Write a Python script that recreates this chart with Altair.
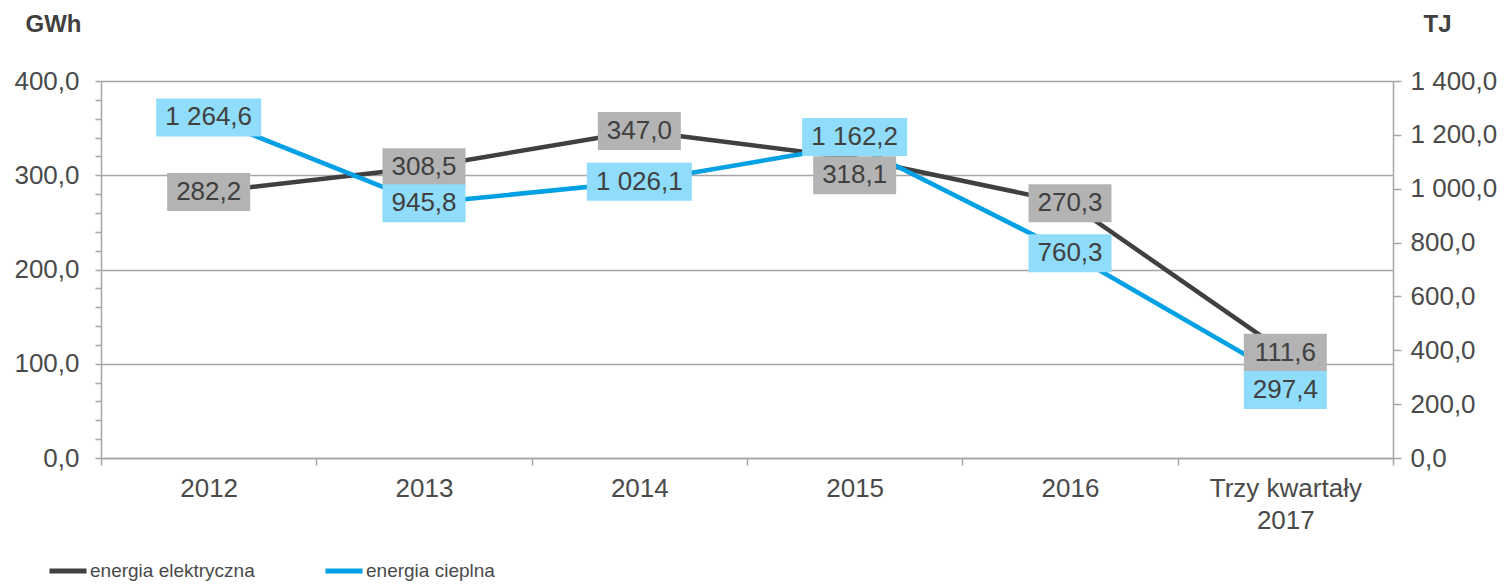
import altair as alt
import pandas as pd

# ---- data ----
categories = ["2012", "2013", "2014", "2015", "2016", "Trzy kwartały 2017"]
elektryczna = [282.2, 308.5, 347.0, 318.1, 270.3, 111.6]   # GWh (left axis)
cieplna = [1264.6, 945.8, 1026.1, 1162.2, 760.3, 297.4]    # TJ (right axis)
series_names = ["energia elektryczna", "energia cieplna"]
left_tick_values = [0, 100, 200, 300, 400]
right_tick_values = [0, 200, 400, 600, 800, 1000, 1200, 1400]

# ---- layout / style ----
FONT = "Liberation Sans"
PLOT_W, PLOT_H = 1292, 377
GWH_MAX, TJ_MAX = 400, 1400
BOX_H = 38
E_LINE, T_LINE = "#404040", "#00a0e4"
E_BOX, T_BOX = "#b3b3b3", "#8fdcfb"
TXT = "#4a4a4a"
GRID = "#a6a6a6"


def fmt(v):
    return f"{v:,.1f}".replace(",", " ").replace(".", ",")


def make_df(values, name, vmax, nudges):
    df = pd.DataFrame({"cat": categories, "value": values, "series": name})
    df["label"] = [fmt(v) for v in values]
    px = df["cat"].map(nudges).fillna(0)
    df["ly"] = df["value"] - px * vmax / PLOT_H
    half = BOX_H / 2 * vmax / PLOT_H
    df["lo"] = df["ly"] - half
    df["hi"] = df["ly"] + half
    df["long"] = df["label"].str.len() > 5
    return df


# label nudges in pixels (positive = down), as in the reference
df_e = make_df(elektryczna, series_names[0], GWH_MAX, {"2015": 17})
df_t = make_df(cieplna, series_names[1], TJ_MAX, {"2015": -8, "Trzy kwartały 2017": 12})

xscale = alt.Scale(type="band", paddingInner=0, paddingOuter=0)
ys_left = alt.Scale(domain=[0, GWH_MAX], nice=False)
ys_right = alt.Scale(domain=[0, TJ_MAX], nice=False)

x_axis = alt.Axis(
    tickBand="extent", tickSize=7, tickColor=GRID, tickWidth=1.5,
    domainColor=GRID, domainWidth=1.5, grid=False, title=None, labelAngle=0,
    labelFont=FONT, labelFontSize=26, labelColor=TXT, labelPadding=10,
    labelLineHeight=32,
    labelExpr="datum.label == 'Trzy kwartały 2017' ? ['Trzy kwartały', '2017'] : datum.label",
)

left_axis = alt.Axis(
    values=list(range(0, GWH_MAX + 1, 20)),
    labelExpr="datum.value % 100 === 0 ? replace(format(datum.value, ',.1f'), '.', ',') : ''",
    labelOverlap=False, labelBound=False,
    tickSize=6, tickColor=GRID, tickWidth=1.5,
    domainColor=GRID, domainWidth=1.5,
    grid=True, gridColor=GRID, gridWidth=1.5,
    gridOpacity={"condition": {"test": "datum.value % 100 === 0", "value": 1}, "value": 0},
    labelFont=FONT, labelFontSize=26, labelColor=TXT, labelPadding=16,
    title="GWh", titleAngle=0, titleX=-48, titleY=-57, titleAlign="center",
    titleBaseline="middle", titleFont=FONT, titleFontSize=24, titleFontWeight="bold",
    titleColor="#404040",
)

right_axis = alt.Axis(
    orient="right", values=right_tick_values,
    labelExpr="replace(replace(format(datum.value, ',.1f'), ',', ' '), '.', ',')",
    labelOverlap=False, labelBound=False,
    tickSize=8, tickColor=GRID, tickWidth=1.5,
    domainColor=GRID, domainWidth=1.5, grid=False,
    labelFont=FONT, labelFontSize=26, labelColor=TXT, labelPadding=9,
    title="TJ", titleAngle=0, titleX=44, titleY=-57, titleAlign="center",
    titleBaseline="middle", titleFont=FONT, titleFontSize=24, titleFontWeight="bold",
    titleColor="#404040",
)

color = alt.Color(
    "series:N",
    scale=alt.Scale(domain=series_names, range=[E_LINE, T_LINE]),
    legend=alt.Legend(
        orient="none", legendX=-54, legendY=469, direction="horizontal", title=None,
        symbolType="stroke", symbolStrokeWidth=5, symbolSize=1369,
        labelFont=FONT, labelFontSize=19, labelColor=TXT, labelOffset=1,
        labelLimit=400, columnPadding=60,
    ),
)


def xpt():
    return alt.X("cat:N", sort=categories, scale=xscale, bandPosition=0.5, axis=x_axis)


def xbar():
    return alt.X("cat:N", sort=categories, scale=xscale, axis=x_axis)


line_e = alt.Chart(df_e).mark_line(strokeWidth=4.5, strokeJoin="round").encode(
    x=xpt(), y=alt.Y("value:Q", scale=ys_left, axis=left_axis), color=color
)
line_t = alt.Chart(df_t).mark_line(strokeWidth=4.5, strokeJoin="round").encode(
    x=xpt(), y=alt.Y("value:Q", scale=ys_right, axis=right_axis), color=color
)


def label_layers(df, ys, box_color):
    layers = []
    for is_long, w in ((False, 83), (True, 105)):
        sub = df[df["long"] == is_long]
        if len(sub):
            layers.append(
                alt.Chart(sub).mark_bar(width=w, color=box_color).encode(
                    x=xbar(),
                    y=alt.Y("lo:Q", scale=ys, axis=None),
                    y2="hi:Q",
                )
            )
    layers.append(
        alt.Chart(df).mark_text(font=FONT, fontSize=26, color="#404040", baseline="middle").encode(
            x=xpt(), y=alt.Y("ly:Q", scale=ys, axis=None), text="label:N"
        )
    )
    return layers


chart = alt.layer(
    line_e, line_t,
    *label_layers(df_e, ys_left, E_BOX),
    *label_layers(df_t, ys_right, T_BOX),
).resolve_scale(y="independent").properties(
    width=PLOT_W, height=PLOT_H,
    autosize=alt.AutoSizeParams(type="none"),
    padding={"left": 93, "top": 73, "right": 108, "bottom": 126},
).configure_view(stroke=None)

chart.save("out.html", embed_options={"renderer": "svg", "actions": False})
